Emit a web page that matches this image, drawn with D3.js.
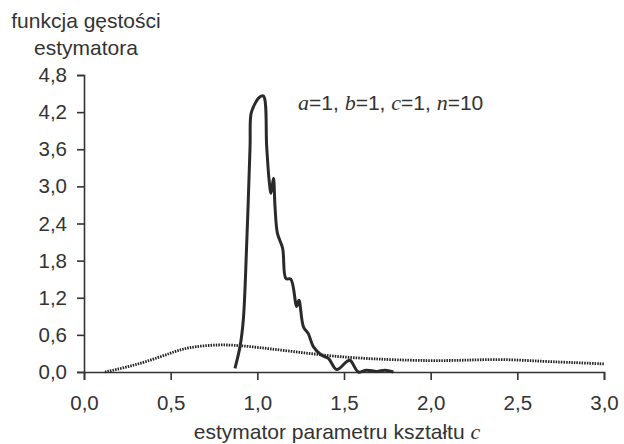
<!DOCTYPE html>
<html><head><meta charset="utf-8">
<script src="https://cdn.jsdelivr.net/npm/d3@7"></script>
<style>body{margin:0;background:#fff}svg{display:block}</style>
</head><body>
<svg id="c" width="624" height="444"></svg>
<script>
const xTicks = [0, 0.5, 1.0, 1.5, 2.0, 2.5, 3.0];
const yTicks = [0, 0.6, 1.2, 1.8, 2.4, 3.0, 3.6, 4.2, 4.8];
const solidX = [0.871,0.90,0.919,0.938,0.958,0.964,0.987,1.012,1.035,1.054,1.068,1.079,1.093,1.102,1.116,1.146,1.165,1.193,1.227,1.24,1.266,1.294,1.323,1.371,1.41,1.458,1.516,1.535,1.583,1.63,1.689,1.737,1.785];
const solidY = [0.06,0.41,0.84,2.02,3.64,4.18,4.34,4.44,4.46,3.64,3.10,2.89,3.13,2.67,2.24,2.00,1.51,1.50,1.06,1.16,0.73,0.62,0.41,0.27,0.22,0.04,0.17,0.19,0.0,0.03,0.01,0.03,0.0];
const dotX = [0.121,0.25,0.362,0.496,0.592,0.785,0.939,1.208,1.477,1.75,2.0,2.2,2.42,2.65,2.85,3.0];
const dotY = [0.0,0.08,0.17,0.30,0.40,0.45,0.42,0.33,0.24,0.20,0.18,0.19,0.21,0.17,0.15,0.13];

const svg = d3.select("#c");
const x = d3.scaleLinear().domain([0,3]).range([84,604]);
const y = d3.scaleLinear().domain([0,4.8]).range([372,75]);
const fmt = d => d.toFixed(1).replace('.', ',');
const col = "#333";
const font = "'Liberation Sans', Arial, sans-serif";
const serif = "'Liberation Serif','Times New Roman',serif";

const gx = svg.append("g").attr("transform","translate(0,372)")
  .call(d3.axisBottom(x).tickValues(xTicks).tickFormat(fmt).tickSizeOuter(0).tickSize(8).tickPadding(15));
const gy = svg.append("g").attr("transform","translate(84,0)")
  .call(d3.axisLeft(y).tickValues(yTicks).tickFormat(fmt).tickSizeOuter(0).tickSize(7).tickPadding(10));
[gx,gy].forEach(g=>{
  g.selectAll("path,line").attr("stroke",col).attr("stroke-width",1.6);
  g.selectAll("text").attr("fill",col).style("font-family",font).style("font-size","20.5px");
});

svg.append("path").datum(dotX.map((v,i)=>[v,dotY[i]]))
  .attr("d", d3.line().x(d=>x(d[0])).y(d=>y(d[1])).curve(d3.curveBasis))
  .attr("fill","none").attr("stroke","#222").attr("stroke-width",2.8).attr("stroke-dasharray","1.5,1.1");
svg.append("path").datum(solidX.map((v,i)=>[v,solidY[i]]))
  .attr("d", d3.line().x(d=>x(d[0])).y(d=>y(d[1])).curve(d3.curveCatmullRom.alpha(0.5)))
  .attr("fill","none").attr("stroke","#2a2a2a").attr("stroke-width",3).attr("stroke-linejoin","round");

// titles
svg.append("text").attr("x",86).attr("y",28).attr("text-anchor","middle")
  .style("font-family",font).style("font-size","21px").attr("fill",col).text("funkcja gęstości");
svg.append("text").attr("x",86).attr("y",55).attr("text-anchor","middle")
  .style("font-family",font).style("font-size","21px").attr("fill",col).text("estymatora");

const xt = svg.append("text").attr("x",337).attr("y",439).attr("text-anchor","middle")
  .style("font-family",font).style("font-size","21px").attr("fill",col);
xt.append("tspan").text("estymator parametru kształtu ");
xt.append("tspan").style("font-family",serif).style("font-style","italic").style("font-size","22px").text("c");

const ann = svg.append("text").attr("x",298).attr("y",110)
  .style("font-family",font).style("font-size","21px").attr("fill",col);
const parts = [["a",1],["=1, ",0],["b",1],["=1, ",0],["c",1],["=1, ",0],["n",1],["=10",0]];
parts.forEach(p=>{
  const t = ann.append("tspan").text(p[0]);
  if(p[1]) t.style("font-family",serif).style("font-style","italic").style("font-size","22px");
});
</script>
</body></html>
